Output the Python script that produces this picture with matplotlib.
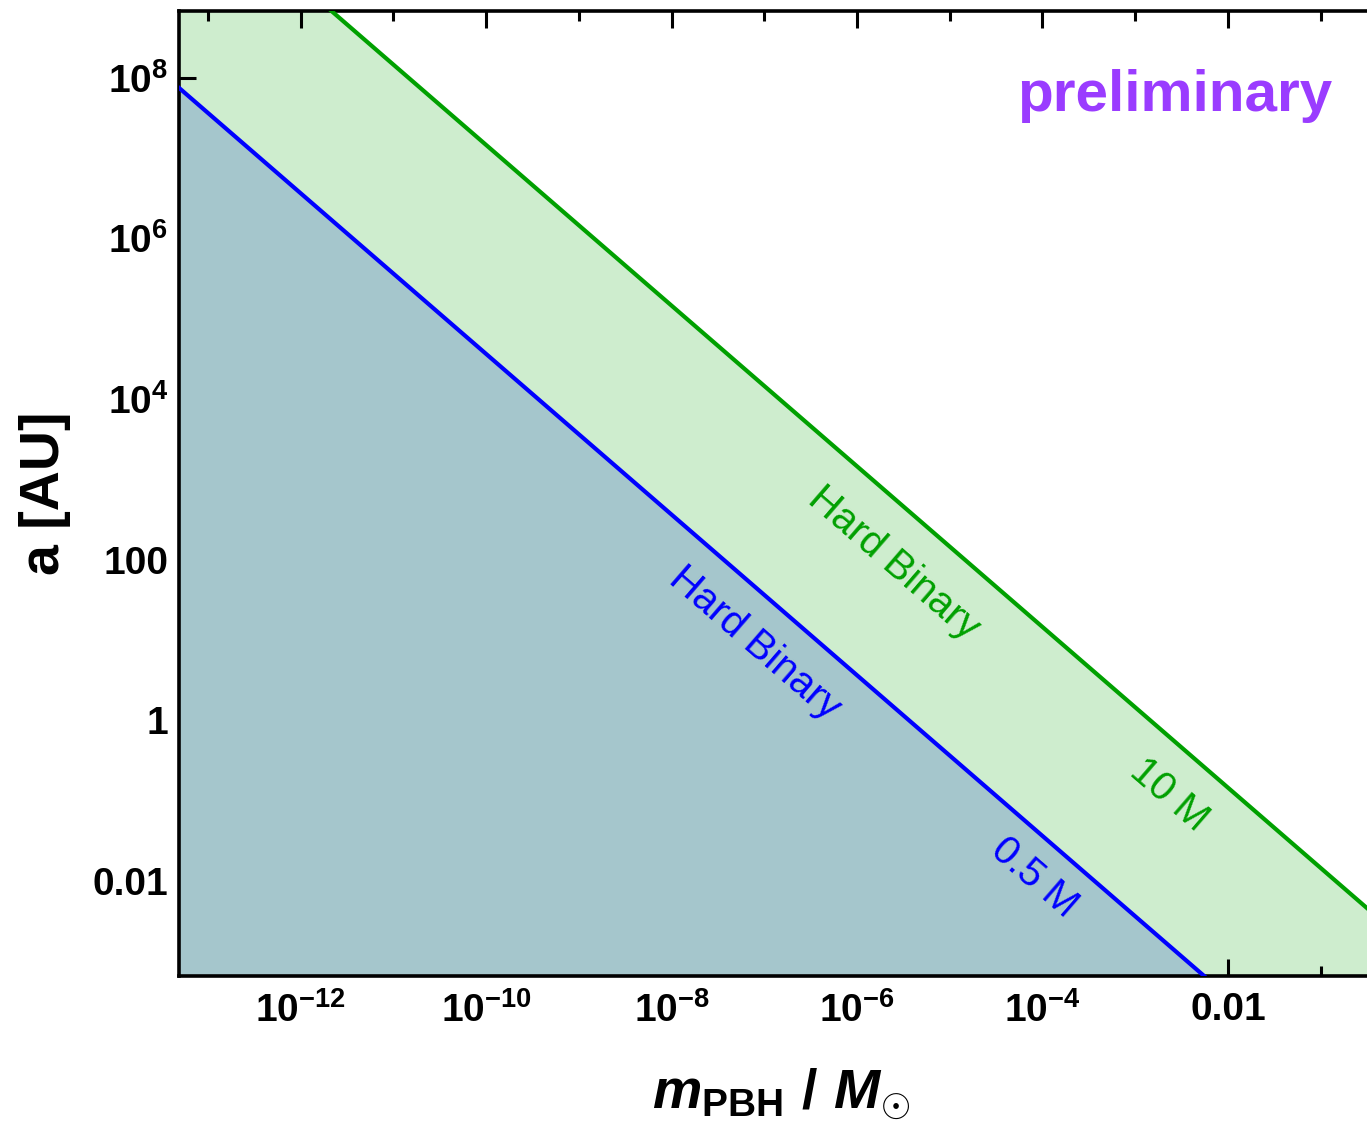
import numpy as np
import matplotlib
matplotlib.use("Agg")
import matplotlib.pyplot as plt
from matplotlib.ticker import FixedLocator, FixedFormatter, NullFormatter

plt.rcParams['font.family'] = ['Liberation Sans', 'DejaVu Sans']
plt.rcParams['mathtext.fontset'] = 'custom'
plt.rcParams['mathtext.rm'] = 'Liberation Sans:bold'
plt.rcParams['mathtext.bf'] = 'Liberation Sans:bold'
plt.rcParams['mathtext.it'] = 'Liberation Sans:bold:italic'
plt.rcParams['mathtext.bfit'] = 'Liberation Sans:bold:italic'
plt.rcParams['mathtext.sf'] = 'Liberation Sans:bold'

# ---- data ----
host_masses = ["0.5 M", "10 M"]
# endpoints of the hard-binary boundaries a_hard(m_PBH)  (a ~ 1/m)
blue_m = [1e-14, 1.0]
blue_a = [3.63e8, 3.63e-6]
green_m = [1e-14, 1.0]
green_a = [1.45e11, 1.45e-3]

x_major = [1e-12, 1e-10, 1e-8, 1e-6, 1e-4, 1e-2]
x_major_labels = [r'$10^{-12}$', r'$10^{-10}$', r'$10^{-8}$', r'$10^{-6}$', r'$10^{-4}$', '0.01']
x_minor = [1e-13, 1e-11, 1e-9, 1e-7, 1e-5, 1e-3, 1e-1]
y_major = [1e-2, 1, 1e2, 1e4, 1e6, 1e8]
y_major_labels = ['0.01', '1', '100', r'$10^{4}$', r'$10^{6}$', r'$10^{8}$']
y_minor = [1e-3, 1e-1, 1e1, 1e3, 1e5, 1e7]

xlim = (10**-13.31, 10**-0.5)
ylim = (10**-3.18, 10**8.83)

fig = plt.figure(figsize=(13.67, 11.21), dpi=100)
ax = fig.add_axes([179.3/1367, (1121-975.7)/1121, (1367-179.3)/1367, (975.7-11)/1121])
ax.set_xscale('log')
ax.set_yscale('log')
ax.set_xlim(*xlim)
ax.set_ylim(*ylim)

green_fill = '#ceedce'
blue_fill = '#a5c6cc'
ax.fill_between(green_m, green_a, ylim[0] * 1e-3, color=green_fill, lw=0, zorder=1)
ax.fill_between(blue_m, blue_a, ylim[0] * 1e-3, color=blue_fill, lw=0, zorder=2)
ax.plot(green_m, green_a, color='#00a000', lw=3.0, zorder=3)
ax.plot(blue_m, blue_a, color='#0000ff', lw=3.0, zorder=3)

rot = -40.9
lab_kw = dict(rotation=rot, rotation_mode='anchor', ha='center', va='center',
              fontsize=29, zorder=4)
ax.text(10**-5.603, 10**1.959, 'Hard Binary', color='#00a000', **lab_kw)
ax.text(10**-7.102, 10**0.963, 'Hard Binary', color='#0000ff', **lab_kw)
ax.text(10**-2.63, 10**-0.935, host_masses[1], color='#00a000', **lab_kw)
ax.text(10**-4.093, 10**-1.963, host_masses[0], color='#0000ff', **lab_kw)

ax.text(1175/1367, 1 - 96/1121, 'preliminary', transform=fig.transFigure,
        color='#9a3cff', fontsize=42, fontweight='bold', ha='center', va='center')

ax.xaxis.set_major_locator(FixedLocator(x_major))
ax.xaxis.set_major_formatter(FixedFormatter(x_major_labels))
ax.xaxis.set_minor_locator(FixedLocator(x_minor))
ax.xaxis.set_minor_formatter(NullFormatter())
ax.yaxis.set_major_locator(FixedLocator(y_major))
ax.yaxis.set_major_formatter(FixedFormatter(y_major_labels))
ax.yaxis.set_minor_locator(FixedLocator(y_minor))
ax.yaxis.set_minor_formatter(NullFormatter())

ax.tick_params(which='both', direction='in', top=True, right=False, width=2.2, color='black')
ax.tick_params(which='major', length=12, labelsize=28)
ax.tick_params(axis='x', which='major', pad=12)
ax.tick_params(axis='y', which='major', pad=8)
ax.tick_params(which='minor', length=7)
for lab in ax.get_xticklabels() + ax.get_yticklabels():
    lab.set_fontweight('bold')

for s in ['left', 'bottom', 'top']:
    ax.spines[s].set_linewidth(2.6)
ax.spines['right'].set_visible(False)

fig.text(45/1367, 1 - 493/1121, 'a [AU]', rotation=90, ha='center', va='center',
         fontsize=40, fontweight='bold')
fig.text(781/1367, 1 - 1108/1121,
         r'$\mathbfit{m}_{\mathbf{PBH}}\ \mathbf{/}\ \mathbfit{M}_{\odot}$',
         ha='center', va='baseline', fontsize=40)

fig.savefig('out.png', dpi=100)
